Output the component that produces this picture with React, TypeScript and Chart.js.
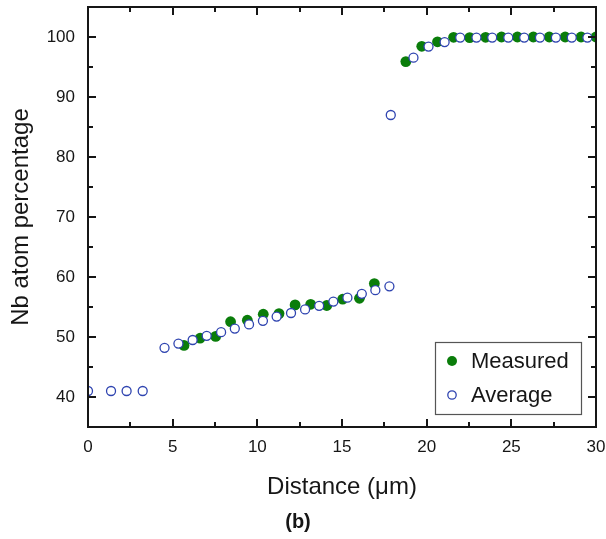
import React, { useEffect, useRef } from "react";
import { Chart, registerables } from "chart.js";

Chart.register(...registerables);

// ---- data ----
const measuredX = [5.67, 6.62, 7.54, 8.42, 9.41, 10.35, 11.28, 12.23, 13.15, 14.1, 15.04, 16.03, 16.91, 18.77, 19.71, 20.64, 21.59, 22.54, 23.48, 24.42, 25.36, 26.3, 27.24, 28.18, 29.12, 30.0];
const measuredY = [48.6, 49.8, 50.1, 52.55, 52.8, 53.8, 53.9, 55.35, 55.45, 55.25, 56.3, 56.45, 58.9, 95.9, 98.45, 99.2, 99.95, 99.9, 99.95, 100, 100, 100, 100, 100, 100, 100];

const averageX = [0, 1.36, 2.28, 3.23, 4.52, 5.34, 6.18, 7.01, 7.86, 8.67, 9.51, 10.33, 11.14, 11.99, 12.82, 13.65, 14.49, 15.32, 16.17, 16.97, 17.8, 17.88, 19.22, 20.11, 21.06, 21.98, 22.94, 23.87, 24.82, 25.76, 26.69, 27.63, 28.57, 29.49];
const averageY = [41, 41, 41, 41, 48.2, 48.9, 49.5, 50.2, 50.8, 51.4, 52.1, 52.7, 53.4, 54.0, 54.6, 55.2, 55.9, 56.55, 57.2, 57.8, 58.45, 87, 96.55, 98.4, 99.15, 99.9, 99.9, 99.9, 99.9, 99.9, 99.9, 99.9, 99.9, 99.9];

const xTicks = [0, 5, 10, 15, 20, 25, 30];
const yTicks = [40, 50, 60, 70, 80, 90, 100];
const X_MIN = 0, X_MAX = 30, Y_MIN = 35, Y_MAX = 105;

const seriesLabels = ["Measured", "Average"];
const xTitle = "Distance (\u03bcm)";
const yTitle = "Nb atom percentage";
const panelTitle = "(b)";

const FONT = "'Liberation Sans', Arial, Helvetica, sans-serif";
const GREEN = "#0a7d0a";
const BLUE = "#2f44b0";
const INK = "#161616";

function minorOf(ticks: number[]) {
  const out: number[] = [];
  for (let i = 0; i < ticks.length - 1; i++) out.push((ticks[i] + ticks[i + 1]) / 2);
  return out;
}

const framePlugin = {
  id: "frame",
  afterDatasetsDraw(chart: any) {
    const { ctx, chartArea: a, scales } = chart;
    const xs = scales.x, ys = scales.y;
    ctx.save();
    ctx.strokeStyle = INK;
    ctx.lineWidth = 2;
    ctx.beginPath();
    const major = 8, minor = 5;
    const yMinor = [...minorOf(yTicks), yTicks[yTicks.length - 1] + 5].filter((v) => v > Y_MIN && v < Y_MAX);
    for (const v of xTicks) {
      const px = Math.round(xs.getPixelForValue(v));
      ctx.moveTo(px, a.bottom); ctx.lineTo(px, a.bottom - major);
      ctx.moveTo(px, a.top); ctx.lineTo(px, a.top + major);
    }
    for (const v of minorOf(xTicks)) {
      const px = Math.round(xs.getPixelForValue(v));
      ctx.moveTo(px, a.bottom); ctx.lineTo(px, a.bottom - minor);
      ctx.moveTo(px, a.top); ctx.lineTo(px, a.top + minor);
    }
    for (const v of yTicks) {
      const py = Math.round(ys.getPixelForValue(v));
      ctx.moveTo(a.left, py); ctx.lineTo(a.left + major, py);
      ctx.moveTo(a.right, py); ctx.lineTo(a.right - major, py);
    }
    for (const v of yMinor) {
      const py = Math.round(ys.getPixelForValue(v));
      ctx.moveTo(a.left, py); ctx.lineTo(a.left + minor, py);
      ctx.moveTo(a.right, py); ctx.lineTo(a.right - minor, py);
    }
    ctx.stroke();
    ctx.strokeRect(a.left, a.top, a.right - a.left, a.bottom - a.top);
    ctx.restore();
  },
};

const legendPlugin = {
  id: "boxLegend",
  afterDraw(chart: any) {
    const { ctx, chartArea: a } = chart;
    const w = 146, h = 72;
    const left = a.right - 15 - w;
    const top = a.bottom - 13 - h;
    ctx.save();
    ctx.fillStyle = "#fff";
    ctx.fillRect(left, top, w, h);
    ctx.strokeStyle = "#555";
    ctx.lineWidth = 1.2;
    ctx.strokeRect(left + 0.5, top + 0.5, w, h);
    ctx.font = `22px ${FONT}`;
    ctx.textBaseline = "middle";
    ctx.fillStyle = INK;
    chart.data.datasets.forEach((ds: any, i: number) => {
      const cy = top + 19 + i * 34;
      const cx = left + 17;
      ctx.beginPath();
      ctx.arc(cx, cy, i === 0 ? 5 : 4.2, 0, Math.PI * 2);
      ctx.fillStyle = ds.backgroundColor;
      ctx.fill();
      if (ds.borderWidth > 0) {
        ctx.strokeStyle = ds.borderColor;
        ctx.lineWidth = ds.borderWidth;
        ctx.stroke();
      }
      ctx.fillStyle = INK;
      ctx.fillText(ds.label, left + 36, cy + 1);
    });
    ctx.restore();
  },
};

export default function App() {
  const ref = useRef<HTMLCanvasElement | null>(null);
  useEffect(() => {
    if (!ref.current) return;
    const chart = new Chart(ref.current, {
      type: "scatter",
      data: {
        datasets: [
          {
            label: seriesLabels[0],
            data: measuredX.map((x, i) => ({ x, y: measuredY[i] })),
            backgroundColor: GREEN,
            borderColor: GREEN,
            borderWidth: 0,
            pointRadius: 5.4,
            order: 1,
            clip: 0,
          },
          {
            label: seriesLabels[1],
            data: averageX.map((x, i) => ({ x, y: averageY[i] })),
            backgroundColor: "#ffffff",
            borderColor: BLUE,
            borderWidth: 1.3,
            pointRadius: 4.5,
            order: 0,
            clip: 0,
          },
        ],
      },
      options: {
        animation: false,
        responsive: false,
        devicePixelRatio: 1,
        events: [],
        layout: { padding: { top: 7, right: 10, left: 0, bottom: 0 } },
        plugins: {
          legend: { display: false },
          tooltip: { enabled: false },
          title: {
            display: true,
            text: panelTitle,
            position: "bottom",
            color: INK,
            font: { family: FONT, size: 20, weight: "bold" },
            padding: { top: 0, bottom: 5 },
          },
        },
        scales: {
          x: {
            type: "linear",
            min: X_MIN,
            max: X_MAX,
            grid: { display: false, drawTicks: false },
            border: { display: false },
            afterBuildTicks: (s: any) => { s.ticks = xTicks.map((v) => ({ value: v })); },
            afterFit: (s: any) => { s.height = 83; s.paddingLeft = 0; s.paddingRight = 0; s.paddingTop = 0; s.paddingBottom = 0; },
            ticks: { font: { family: FONT, size: 17 }, color: INK, padding: 10, maxRotation: 0, autoSkip: false },
            title: { display: true, text: xTitle, color: INK, font: { family: FONT, size: 24 }, padding: { top: 0, bottom: 8 } },
          },
          y: {
            type: "linear",
            min: Y_MIN,
            max: Y_MAX,
            grid: { display: false, drawTicks: false },
            border: { display: false },
            afterBuildTicks: (s: any) => { s.ticks = yTicks.map((v) => ({ value: v })); },
            afterFit: (s: any) => { s.width = 88; s.paddingLeft = 0; s.paddingRight = 0; s.paddingTop = 0; s.paddingBottom = 0; },
            ticks: { font: { family: FONT, size: 17 }, color: INK, padding: 13, autoSkip: false },
            title: { display: true, text: yTitle, color: INK, font: { family: FONT, size: 24 }, padding: { top: 7, bottom: 0 } },
          },
        },
      },
      plugins: [framePlugin, legendPlugin],
    } as any);
    return () => chart.destroy();
  }, []);
  return (
    <div style={{ position: "absolute", left: 0, top: 0, width: 606, height: 539, background: "#fff" }}>
      <canvas ref={ref} width={606} height={539} style={{ display: "block" }} />
    </div>
  );
}
